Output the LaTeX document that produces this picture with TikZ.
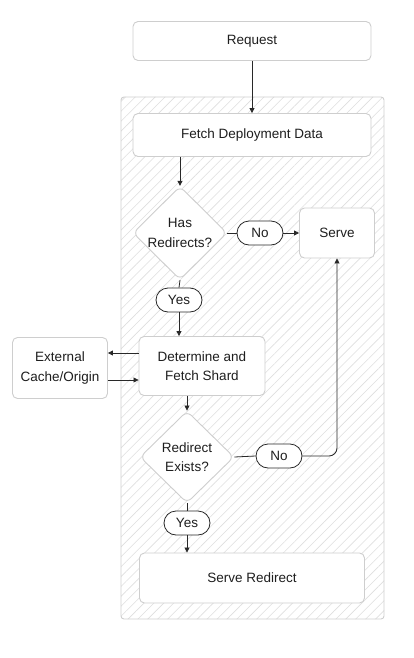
\documentclass[tikz,border=0pt]{standalone}
\usepackage{fontspec}
\setmainfont{Liberation Sans}
\usetikzlibrary{shapes.geometric, arrows.meta, positioning, patterns.meta}
\definecolor{edgegray}{RGB}{206, 206, 206}
\definecolor{hatchgray}{RGB}{222, 222, 222}
\definecolor{textdark}{RGB}{30, 30, 30}
\definecolor{linedark}{RGB}{40, 40, 40}

\begin{document}
\begin{tikzpicture}[
    x=1pt, y=-1pt,
    font=\fontsize{13.5}{19.5}\selectfont,
    box/.style={rectangle, draw=edgegray, fill=white, rounded corners=5pt, align=center, line width=0.9pt, text=textdark, inner sep=0pt},
    decision/.style={diamond, draw=edgegray, fill=white, rounded corners=6pt, align=center, line width=0.9pt, text=textdark, inner sep=0pt, minimum width=94pt, minimum height=92pt},
    pill/.style={rectangle, draw=linedark, fill=white, rounded corners=12pt, minimum width=46pt, minimum height=24pt, line width=0.8pt, inner sep=0pt, text=textdark},
    arrow/.style={-{Triangle[length=5pt, width=5pt]}, line width=0.8pt, color=linedark},
    link/.style={line width=0.8pt, color=linedark}
]
\useasboundingbox (0,0) rectangle (414,658);

% Edge function area
\draw[edgegray, line width=0.9pt, rounded corners=3pt,
      pattern={Lines[angle=45, distance=7pt, line width=0.6pt]}, pattern color=hatchgray]
      (121,97) rectangle (384,619);

% Steps
\node[box, minimum width=238pt, minimum height=39pt] (request) at (252,41) {Request};
\node[box, minimum width=238pt, minimum height=43pt] (fetch) at (252,135) {Fetch Deployment Data};
\node[decision] (hasredir) at (180,233) {Has\\Redirects?};
\node[pill] (no1) at (260,233) {No};
\node[box, minimum width=75pt, minimum height=50pt] (serve) at (337,233) {Serve};
\node[pill] (yes1) at (179,300) {Yes};
\node[box, minimum width=126pt, minimum height=59pt] (shard) at (202,366) {Determine and\\Fetch Shard};
\node[box, minimum width=95pt, minimum height=61pt] (cache) at (60,368) {External\\Cache/Origin};
\node[decision] (exists) at (187,457) {Redirect\\Exists?};
\node[pill] (no2) at (279,456) {No};
\node[pill] (yes2) at (187,523) {Yes};
\node[box, minimum width=225pt, minimum height=50pt] (redirect) at (252,578) {Serve Redirect};

% Main flow
\draw[arrow] (request) -- (fetch);
\draw[arrow] (fetch.south -| hasredir.north) -- (hasredir.north);
\draw[link] (hasredir.east) -- (no1.west);
\draw[arrow] (no1.east) -- (serve.west);
\draw[link] (hasredir.south) -- (yes1.north);
\draw[arrow] (yes1.south) -- (yes1.south |- shard.north);

% Shard lookup
\draw[arrow] ([yshift=13pt]shard.west) -- ([yshift=13pt]shard.west -| cache.east);
\draw[arrow] ([yshift=-12pt]cache.east) -- ([yshift=-12pt]cache.east -| shard.west);
\draw[arrow] (shard.south -| exists.north) -- (exists.north);

% Redirect check
\draw[link] (exists.east) -- (no2.west);
\draw[arrow, rounded corners=8pt] (no2.east) -| (serve.south);
\draw[link] (exists.south) -- (yes2.north);
\draw[arrow] (yes2.south) -- (yes2.south |- redirect.north);

\end{tikzpicture}
\end{document}
